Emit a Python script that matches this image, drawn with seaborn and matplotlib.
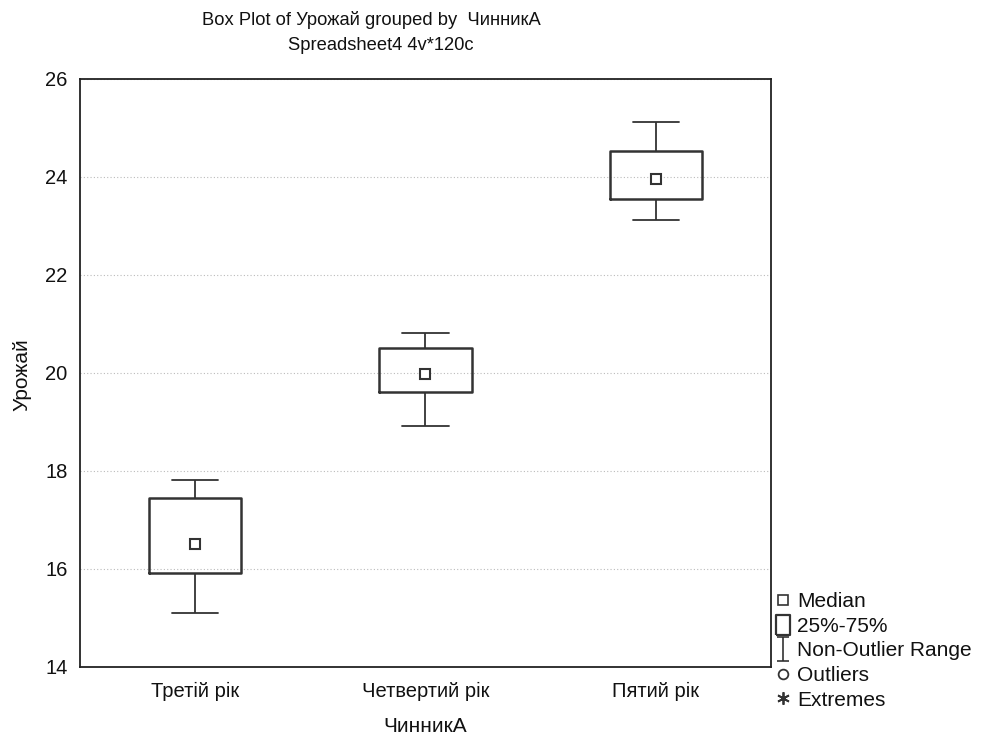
import numpy as np
import pandas as pd
import matplotlib
matplotlib.use("Agg")
import matplotlib.pyplot as plt
from matplotlib.lines import Line2D
from matplotlib.path import Path
import seaborn as sns

# five-number summaries (min, q1, median, q3, max)
groups = ["Третій рік", "Четвертий рік", "Пятий рік"]
third = [15.10, 15.92, 16.51, 17.45, 17.82]
fourth = [18.92, 19.61, 19.97, 20.51, 20.82]
fifth = [23.12, 23.55, 23.96, 24.54, 25.12]

df = pd.DataFrame({
    "ЧинникА": np.repeat(groups, 5),
    "Урожай": third + fourth + fifth,
})

sns.set_style("white")
plt.rcParams["font.family"] = ["Liberation Sans", "DejaVu Sans"]
plt.rcParams["text.color"] = "#111111"

fig = plt.figure(figsize=(9.83, 7.38), dpi=100)
ax = fig.add_axes([80 / 983, 71 / 738, 691 / 983, 588 / 738])

col = "#333333"
sns.boxplot(data=df, x="ЧинникА", y="Урожай", order=groups, ax=ax, width=0.4,
            whis=1.5, fill=False, color=col, linewidth=1.3,
            boxprops=dict(linewidth=1.8, color=col),
            whiskerprops=dict(linewidth=1.3, color=col),
            capprops=dict(linewidth=1.3, color=col),
            medianprops=dict(visible=False), showfliers=False, capwidths=0.2)
sns.pointplot(data=df, x="ЧинникА", y="Урожай", order=groups, ax=ax,
              estimator=np.median, errorbar=None, linestyle="none",
              marker="s", markersize=7, markerfacecolor="white",
              markeredgecolor=col, markeredgewidth=1.5, color=col)

ax.set_xlim(-0.5, 2.5)
ax.set_ylim(14, 26)
ax.set_yticks([14, 16, 18, 20, 22, 24, 26])
ax.yaxis.grid(True, linestyle=(0, (1, 2)), color="#bbbbbb", linewidth=0.8)
ax.set_axisbelow(True)
for s in ax.spines.values():
    s.set_visible(True)
    s.set_color("#222222")
    s.set_linewidth(1.3)
ax.tick_params(axis="both", direction="in", length=4, width=1, colors="#222222",
               labelsize=14.5, labelcolor="#111111", pad=9)
ax.tick_params(axis="x", pad=11)
ax.set_xlabel("")
ax.set_ylabel("")

fig.text(425 / 983, 1 - 727 / 738, "ЧинникА", ha="center", va="center", fontsize=15)
fig.text(22 / 983, 1 - 375 / 738, "Урожай", ha="center", va="center",
         rotation=90, fontsize=15)
fig.text(202 / 983, 1 - 20 / 738, "Box Plot of Урожай grouped by  ЧинникА",
         ha="left", va="center", fontsize=13.2)
fig.text(288 / 983, 1 - 45 / 738, "Spreadsheet4 4v*120c",
         ha="left", va="center", fontsize=13.2)

# legend
ibeam = Path([(-0.5, 1), (0.5, 1), (0, 1), (0, -1), (-0.5, -1), (0.5, -1)],
             [Path.MOVETO, Path.LINETO, Path.MOVETO, Path.LINETO, Path.MOVETO, Path.LINETO])
rect = Path([(-0.7, -1), (0.7, -1), (0.7, 1), (-0.7, 1), (-0.7, -1)])
handles = [
    Line2D([], [], linestyle="none", marker="s", markersize=7, markerfacecolor="white",
           markeredgecolor=col, markeredgewidth=1.2),
    Line2D([], [], linestyle="none", marker=rect, markersize=15, markerfacecolor="white",
           markeredgecolor=col, markeredgewidth=1.6),
    Line2D([], [], linestyle="none", marker=ibeam, markersize=17, markerfacecolor="none",
           markeredgecolor=col, markeredgewidth=1.2),
    Line2D([], [], linestyle="none", marker="o", markersize=7, markerfacecolor="white",
           markeredgecolor=col, markeredgewidth=1.3),
    Line2D([], [], linestyle="none", marker=(6, 2, 0), markersize=9,
           markeredgecolor=col, markeredgewidth=1.3),
]
labels = ["Median", "25%-75%", "Non-Outlier Range", "Outliers", "Extremes"]
fig.legend(handles, labels, loc="upper left", bbox_to_anchor=(772 / 983, 1 - 588 / 738),
           frameon=False, fontsize=15, handlelength=0.7, handletextpad=0.3,
           labelspacing=0.27, borderaxespad=0, borderpad=0.2)

fig.savefig("out.png", dpi=100)
